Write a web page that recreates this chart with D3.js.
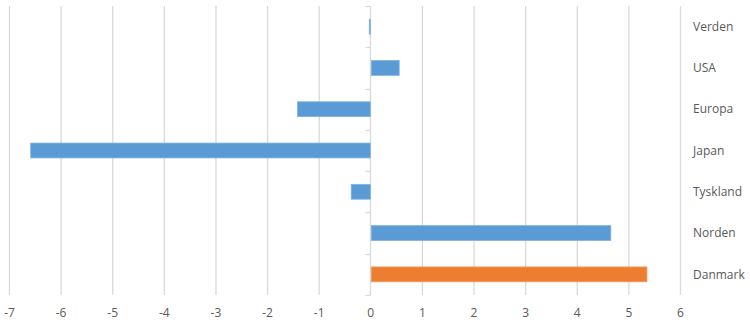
<!DOCTYPE html>
<html>
<head>
<meta charset="utf-8">
<script src="https://cdn.jsdelivr.net/npm/d3@7"></script>
<style>
  html, body { margin: 0; padding: 0; background: #fff; }
  svg { display: block; }
  text { font-family: "Open Sans", "Noto Sans", sans-serif; fill: #595959; }
</style>
</head>
<body>
<div id="chart"></div>
<script>
// Regions, top to bottom
const categories = ["Verden", "USA", "Europa", "Japan", "Tyskland", "Norden", "Danmark"];
const values = [-0.02, 0.54, -1.41, -6.58, -0.37, 4.64, 5.34];
const highlight = ["Danmark"];
const xTicks = [-7, -6, -5, -4, -3, -2, -1, 0, 1, 2, 3, 4, 5, 6];

const W = 750, H = 322;
const plot = { left: 9, right: 680, top: 6, bottom: 295 };
const FONT = "'Open Sans', 'Noto Sans', sans-serif";

const svg = d3.select("#chart").append("svg")
  .attr("width", W).attr("height", H);

const x = d3.scaleLinear().domain([-7, 6]).range([plot.left, plot.right]);
const y = d3.scaleBand().domain(categories).range([plot.top, plot.bottom])
  .paddingInner(0.64).paddingOuter(0.32);
const yOuter = d3.scaleBand().domain(categories).range([plot.top, plot.bottom]);

// vertical gridlines
svg.append("g").selectAll("line").data(xTicks.filter(d => d !== 0)).join("line")
  .attr("x1", d => x(d) + 0.5).attr("x2", d => x(d) + 0.5)
  .attr("y1", plot.top).attr("y2", plot.bottom)
  .attr("stroke", "#d9d9d9").attr("stroke-width", 1.3);

// category axis on zero line with tick marks between bands
const zx = Math.round(x(0)) + 0.5;
svg.append("line")
  .attr("x1", zx).attr("x2", zx).attr("y1", plot.top).attr("y2", plot.bottom)
  .attr("stroke", "#d9d9d9").attr("stroke-width", 1.3);
const tickYs = categories.map(c => yOuter(c)).concat([plot.bottom]);
svg.append("g").selectAll("line").data(tickYs).join("line")
  .attr("x1", zx - 5).attr("x2", zx)
  .attr("y1", d => Math.round(d) + 0.5).attr("y2", d => Math.round(d) + 0.5)
  .attr("stroke", "#d9d9d9").attr("stroke-width", 1.3);

// bars
svg.append("g").selectAll("rect").data(categories).join("rect")
  .attr("x", (c, i) => x(Math.min(0, values[i])) + (values[i] >= 0 ? 1 : 0))
  .attr("width", (c, i) => Math.max(0.8, Math.abs(x(values[i]) - x(0))))
  .attr("y", c => y(c))
  .attr("height", y.bandwidth())
  .attr("fill", c => highlight.includes(c) ? "#ed7d31" : "#5b9bd5")
  .attr("stroke", c => highlight.includes(c) ? "#f29a62" : "#7fb2e0")
  .attr("stroke-width", 0.8);

// category labels on the right
svg.append("g").selectAll("text").data(categories).join("text")
  .attr("x", 693)
  .attr("y", c => yOuter(c) + yOuter.bandwidth() / 2)
  .attr("dy", "0.35em")
  .attr("font-size", 12)
  .text(c => c);

// value axis labels
const xAxis = d3.axisBottom(x).tickValues(xTicks).tickSize(0).tickPadding(0)
  .tickFormat(d => d < 0 ? "-" + Math.abs(d) : String(d));
const gx = svg.append("g").attr("transform", `translate(0,${plot.bottom})`).call(xAxis);
gx.select(".domain").remove();
gx.selectAll("text")
  .attr("y", 13).attr("font-size", 12)
  .style("font-family", FONT)
  .attr("fill", "#595959");
</script>
</body>
</html>
